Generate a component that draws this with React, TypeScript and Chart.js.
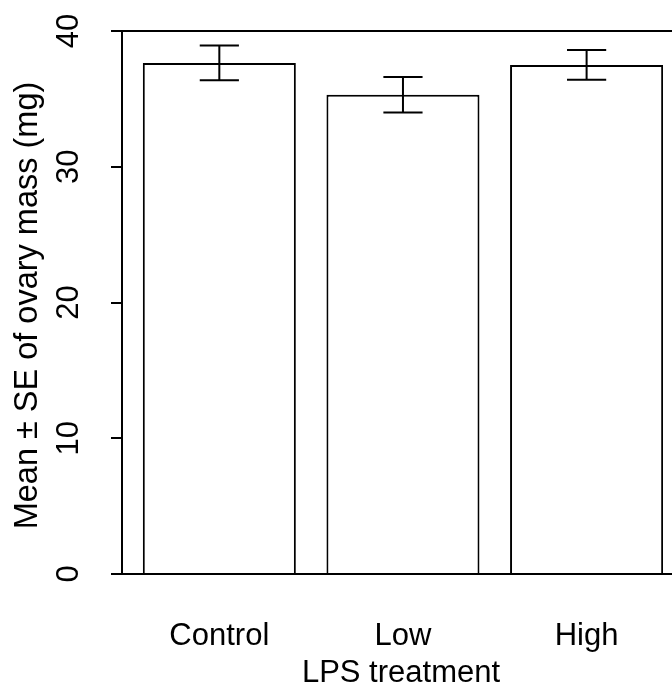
import React, { useEffect, useRef } from "react";
import { Chart, registerables } from "chart.js";
Chart.register(...registerables);

const categories = ["Control", "Low", "High"];
const means = [37.65, 35.3, 37.5];
const errors = [1.28, 1.31, 1.1];
const yTicks = [0, 10, 20, 30, 40];
const yTitle = "Mean ± SE of ovary mass (mg)";
const xTitle = "LPS treatment";

const FONT = '31px "Liberation Sans", Arial, sans-serif';
const TITLE_FONT = '32.5px "Liberation Sans", Arial, sans-serif';

export default function App() {
  const ref = useRef<HTMLCanvasElement>(null);
  useEffect(() => {
    const canvas = ref.current!;
    const plugin = {
      id: "rstyle",
      afterDatasetsDraw(chart: any) {
        const { ctx } = chart;
        const meta = chart.getDatasetMeta(0);
        const y = chart.scales.y;
        ctx.save();
        ctx.strokeStyle = "#000";
        ctx.lineWidth = 2;
        ctx.lineCap = "butt";
        meta.data.forEach((bar: any, i: number) => {
          const x = bar.x;
          const half = bar.width * 0.128;
          const top = y.getPixelForValue(means[i] + errors[i]);
          const bot = y.getPixelForValue(means[i] - errors[i]);
          ctx.beginPath();
          ctx.moveTo(x, top);
          ctx.lineTo(x, bot);
          ctx.moveTo(x - half, top);
          ctx.lineTo(x + half, top);
          ctx.moveTo(x - half, bot);
          ctx.lineTo(x + half, bot);
          ctx.stroke();
        });
        ctx.restore();
      },
      afterDraw(chart: any) {
        const { ctx, chartArea } = chart;
        const x = chart.scales.x;
        const y = chart.scales.y;
        ctx.save();
        ctx.fillStyle = "#000";
        ctx.font = FONT;
        ctx.textAlign = "center";
        ctx.textBaseline = "alphabetic";
        yTicks.forEach((v) => {
          ctx.save();
          ctx.translate(78, y.getPixelForValue(v));
          ctx.rotate(-Math.PI / 2);
          ctx.fillText(String(v), 0, 0);
          ctx.restore();
        });
        ctx.save();
        ctx.font = TITLE_FONT;
        ctx.translate(37, (chartArea.top + chartArea.bottom) / 2 + 3);
        ctx.rotate(-Math.PI / 2);
        ctx.fillText(yTitle, 0, 0);
        ctx.restore();
        categories.forEach((c, i) => ctx.fillText(c, x.getPixelForValue(i), 645));
        ctx.fillText(xTitle, x.getPixelForValue(1) - 2, 682);
        ctx.restore();
      },
    };
    const chart = new Chart(canvas, {
      type: "bar",
      data: {
        datasets: [
          {
            data: categories.map((_, i) => ({ x: i, y: means[i] })),
            backgroundColor: "#fff",
            borderColor: "#000",
            borderWidth: 2,
            categoryPercentage: 1,
            barPercentage: 1 / 1.2,
          },
        ],
      },
      options: {
        animation: false,
        responsive: false,
        events: [],
        layout: { padding: { top: 31, bottom: 112, left: 0, right: 0 } },
        plugins: { legend: { display: false }, tooltip: { enabled: false } },
        scales: {
          x: {
            type: "linear",
            min: -0.53,
            max: 2.465,
            offset: false,
            display: false,
            ticks: { stepSize: 1, includeBounds: false },
            grid: { display: false },
          },
          y: {
            type: "linear",
            min: 0,
            max: 40,
            z: 1,
            ticks: { display: false, stepSize: 10 },
            grid: {
              color: (c: any) =>
                c.tick && (c.tick.value === 0 || c.tick.value === 40) ? "#000" : "rgba(0,0,0,0)",
              tickColor: "#000",
              lineWidth: 2,
              tickLength: 11,
              drawTicks: true,
            },
            border: { display: true, color: "#000", width: 2 },
            afterFit: (s: any) => {
              s.width = 122;
            },
          },
        },
      },
      plugins: [plugin],
    } as any);
    return () => chart.destroy();
  }, []);
  return (
    <div style={{ position: "fixed", left: 0, top: 0, width: 672, height: 686, background: "#fff" }}>
      <canvas ref={ref} width={672} height={686} style={{ display: "block" }} />
    </div>
  );
}
